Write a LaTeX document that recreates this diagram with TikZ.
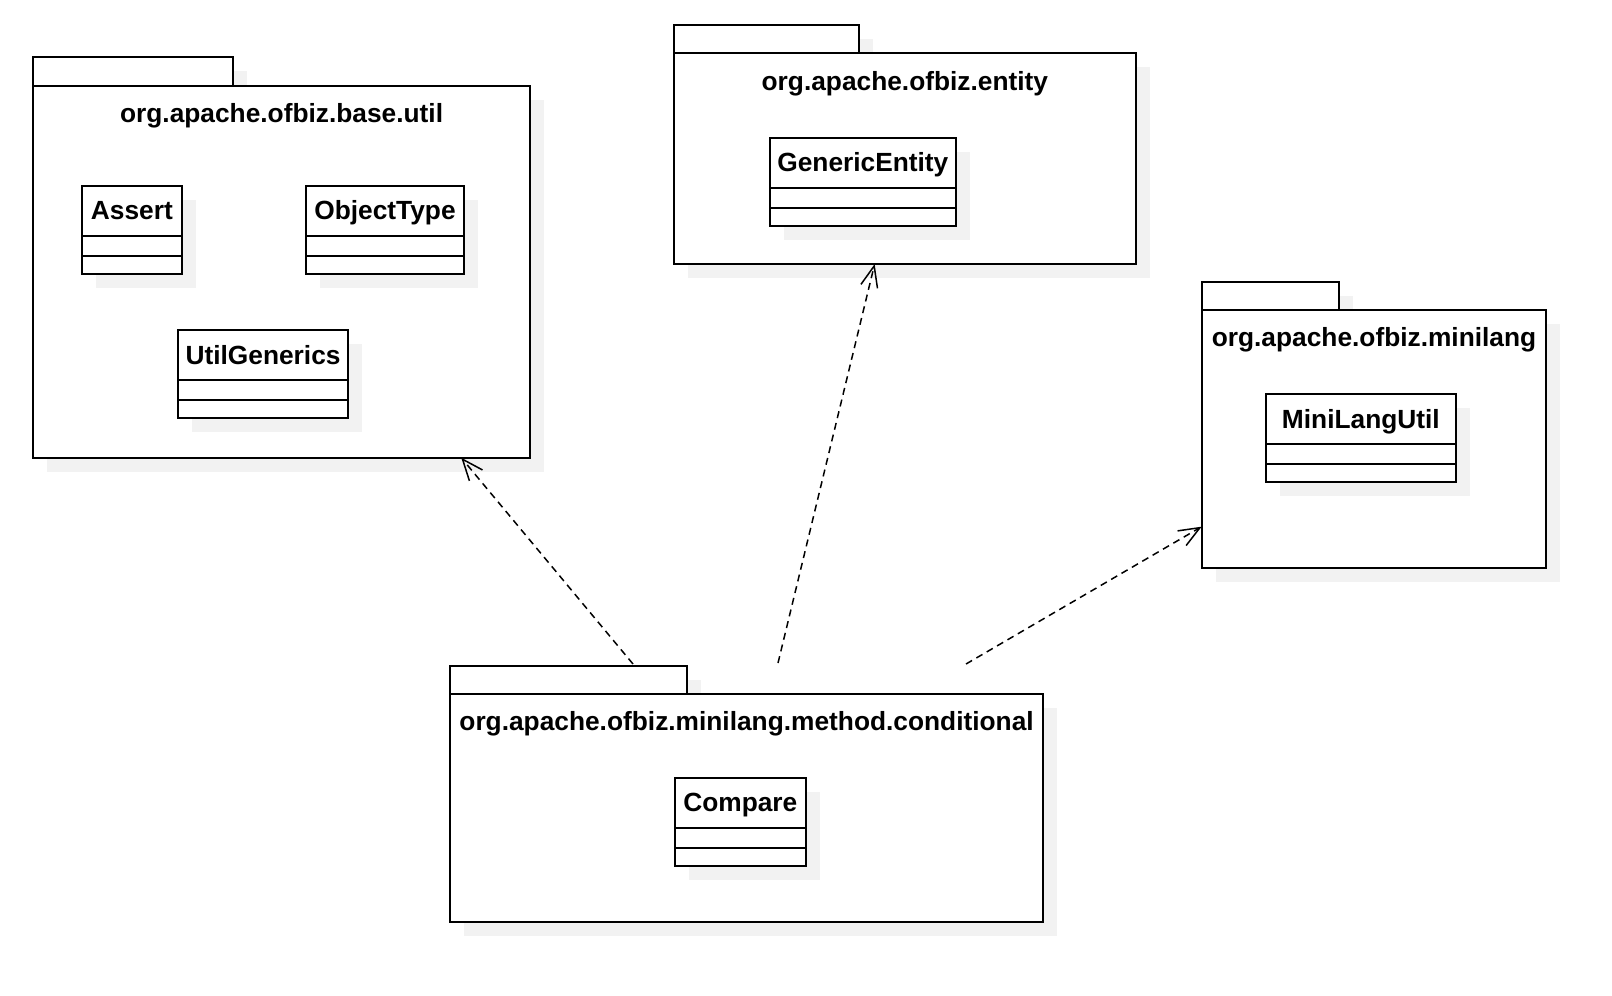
\documentclass[tikz,border=0pt]{standalone}
\usepackage{fontspec}
\setmainfont{Liberation Sans}
\usetikzlibrary{positioning,arrows.meta,shadows}
\definecolor{shadowgray}{RGB}{242,242,242}

\begin{document}
\begin{tikzpicture}[x=0.5pt, y=-0.5pt,
  font=\fontsize{13.15pt}{15pt}\selectfont\bfseries,
  box/.style={draw, line width=0.9pt, fill=white, inner sep=0pt, outer sep=0pt,
    general shadow={fill=shadowgray, shadow xshift=7pt, shadow yshift=-7pt}},
  pkgtab/.style={box, anchor=south west, minimum height=14.2pt},
  pkgbody/.style={box, anchor=north west},
  pkgname/.style={anchor=base, inner sep=0pt},
  clsname/.style={box, anchor=north west, minimum height=25pt,
    text height=12pt, text depth=3pt},
  clspart/.style={box, below=0pt of #1},
  dep/.style={line width=0.75pt, dash pattern=on 3.5pt off 2.5pt,
    -{Straight Barb[length=10.5pt,width=8.5pt]}}]
  \useasboundingbox (0,0) rectangle (1612,996);
  % packages: name/left/top/width/height/tab width/label
  \foreach \id/\x/\y/\w/\h/\tw/\lbl in {
      baseutil/33.2/85.7/496.8/372/199.8/org.apache.ofbiz.base.util,
      entity/673.7/53.3/462.3/210.7/185.3/org.apache.ofbiz.entity,
      minilang/1201.7/310/344.6/257.7/137.6/org.apache.ofbiz.minilang,
      conditional/449.8/694/593.5/227.7/237.4/org.apache.ofbiz.minilang.method.conditional}
  {
    \node[pkgtab, minimum width=\tw*0.5pt] (\id-tab) at (\x,\y) {};
    \node[pkgbody, minimum width=\w*0.5pt, minimum height=\h*0.5pt] (\id) at (\x,\y) {};
    \node[pkgname] (\id-name) at ([yshift=-18.35pt]\id.north) {\lbl};
  }
  % classes: name/left/top/width/label
  \foreach \id/\x/\y/\w/\lbl in {
      assert/81.8/185.7/100.2/Assert,
      objecttype/305.7/185.7/158.6/ObjectType,
      utilgenerics/177.9/330/170.3/UtilGenerics,
      genericentity/769.7/137.7/186.3/GenericEntity,
      minilangutil/1265.7/394/190.3/MiniLangUtil,
      compare/674.9/777.7/130.9/Compare}
  {
    \node[clsname, minimum width=\w*0.5pt] (\id) at (\x,\y) {\lbl};
    \node[clspart=\id, minimum width=\w*0.5pt, minimum height=10pt] (\id-attr) {};
    \node[clspart=\id-attr, minimum width=\w*0.5pt, minimum height=9pt] (\id-ops) {};
  }
  % dependencies
  \coordinate (use-baseutil) at (633,664);
  \coordinate (use-entity) at (778,663);
  \coordinate (use-minilang) at (966,664);
  \draw[dep] (use-baseutil) -- (baseutil.-46.8);
  \draw[dep] (use-entity) -- (entity.-106.9);
  \draw[dep] (use-minilang) -- (minilang.-153.2);
\end{tikzpicture}
\end{document}
